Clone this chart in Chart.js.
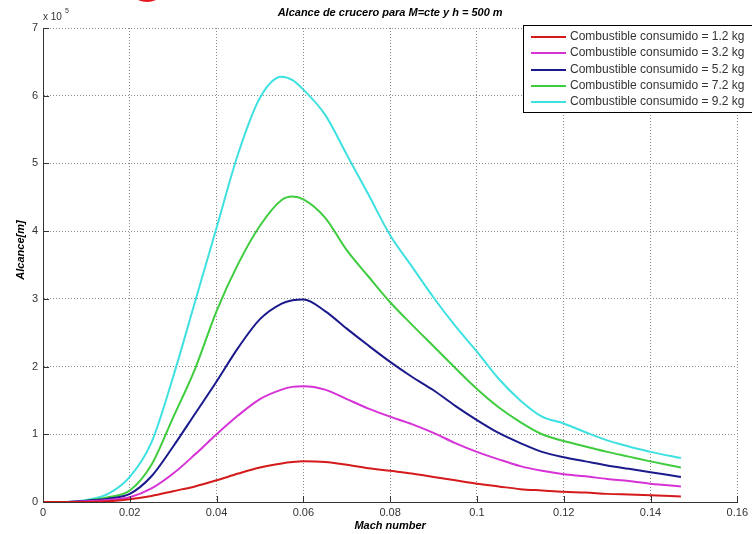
<!DOCTYPE html>
<html>
<head>
<meta charset="utf-8">
<script src="https://cdn.jsdelivr.net/npm/chart.js@4.4.1/dist/chart.umd.min.js"></script>
<style>
  html, body { margin: 0; padding: 0; background: #fff; }
  canvas { display: block; }
</style>
</head>
<body>
<canvas id="alcanceChart" width="752" height="534"></canvas>
<script>
// Numero de Mach (eje x)
const mach = [0, 0.005, 0.01, 0.015, 0.02, 0.025, 0.03, 0.035, 0.04, 0.045, 0.05, 0.055, 0.0575, 0.06, 0.065, 0.07, 0.075, 0.08, 0.085, 0.09, 0.095, 0.1, 0.105, 0.11, 0.115, 0.12, 0.125, 0.13, 0.135, 0.14, 0.147];

// Alcance [m] para cada combustible consumido
const alcance12 = [0, 0, 0, 1000, 4000, 9000, 16000, 23000, 32000, 42000, 51000, 57000, 59000, 60000, 59000, 55000, 50000, 46000, 42000, 37000, 32000, 27000, 23000, 19000, 17000, 15000, 14000, 12000, 11000, 10000, 8000];
const alcance32 = [0, 0, 1000, 3000, 7000, 20000, 42000, 70000, 100000, 128000, 152000, 166000, 170000, 171000, 166000, 152000, 138000, 126000, 115000, 102000, 87000, 74000, 63000, 53000, 46000, 41000, 38000, 34000, 31000, 27000, 23000];
const alcance52 = [0, 0, 2000, 5000, 12000, 38000, 82000, 130000, 178000, 228000, 270000, 293000, 298000, 299000, 282000, 256000, 231000, 207000, 185000, 165000, 142000, 121000, 102000, 87000, 74000, 66000, 60000, 54000, 49000, 44000, 37000];
const alcance72 = [0, 0, 2000, 7000, 17000, 55000, 125000, 196000, 282000, 352000, 408000, 446000, 451000, 447000, 420000, 372000, 333000, 295000, 262000, 230000, 198000, 167000, 140000, 118000, 100000, 90000, 82000, 74000, 67000, 60000, 51000];
const alcance92 = [0, 0, 3000, 12000, 37000, 88000, 185000, 295000, 405000, 515000, 597000, 628000, 623000, 609000, 572000, 513000, 454000, 394000, 348000, 302000, 260000, 222000, 182000, 150000, 126000, 116000, 103000, 91000, 82000, 74000, 65000];

const etiquetas = ['Combustible consumido = 1.2 kg', 'Combustible consumido = 3.2 kg', 'Combustible consumido = 5.2 kg', 'Combustible consumido = 7.2 kg', 'Combustible consumido = 9.2 kg'];
const colores = ['#d41a1a', '#d633d6', '#1a1a8c', '#3fcc3f', '#3fe0e0'];
const series = [alcance12, alcance32, alcance52, alcance72, alcance92];

const fuente = '"Liberation Sans", Arial, Helvetica, sans-serif';

// Marcas de los ejes hacia dentro (estilo MATLAB)
const marcasInternas = {
    id: 'marcasInternas',
    afterDatasetsDraw(chart) {
        const { ctx, chartArea: a, scales: { x, y } } = chart;
        ctx.save();
        ctx.strokeStyle = '#333';
        ctx.lineWidth = 1;
        ctx.beginPath();
        x.ticks.forEach(t => {
            const px = Math.round(x.getPixelForValue(t.value)) + 0.5;
            ctx.moveTo(px, a.bottom);
            ctx.lineTo(px, a.bottom - 6);
        });
        y.ticks.forEach(t => {
            const py = Math.round(y.getPixelForValue(t.value)) + 0.5;
            ctx.moveTo(a.left, py);
            ctx.lineTo(a.left + 6, py);
        });
        ctx.stroke();
        ctx.restore();
    }
};

// Titulos, multiplicador del eje y y leyenda
const textos = {
    id: 'textos',
    afterDraw(chart) {
        const { ctx, chartArea: a } = chart;
        const cx = (a.left + a.right) / 2;
        ctx.save();

        ctx.fillStyle = '#e8141c';
        ctx.beginPath();
        ctx.ellipse(147, -3, 11, 5, 0, 0, Math.PI * 2);
        ctx.fill();

        ctx.fillStyle = '#000';
        ctx.textAlign = 'center';
        ctx.textBaseline = 'middle';
        ctx.font = 'italic bold 11px ' + fuente;
        ctx.fillText('Alcance de crucero para M=cte y h = 500 m', cx, 13);
        ctx.fillText('Mach number', cx, 526);

        ctx.save();
        ctx.translate(21, 250);
        ctx.rotate(-Math.PI / 2);
        ctx.fillText('Alcance[m]', 0, 0);
        ctx.restore();

        ctx.fillStyle = '#333';
        ctx.textAlign = 'left';
        ctx.textBaseline = 'alphabetic';
        ctx.font = '10px ' + fuente;
        ctx.fillText('x 10', 43, 20);
        ctx.font = '7px ' + fuente;
        ctx.fillText('5', 65, 13);

        // leyenda
        const x0 = 523, y0 = 25, w = 240, h = 87;
        ctx.fillStyle = '#fff';
        ctx.fillRect(x0, y0, w, h);
        ctx.strokeStyle = '#000';
        ctx.lineWidth = 1;
        ctx.strokeRect(x0 + 0.5, y0 + 0.5, w, h);
        ctx.font = '12px ' + fuente;
        ctx.textBaseline = 'middle';
        chart.data.datasets.forEach((ds, i) => {
            const yy = Math.round(y0 + 12 + i * 16.3);
            ctx.strokeStyle = ds.borderColor;
            ctx.lineWidth = 2;
            ctx.beginPath();
            ctx.moveTo(x0 + 8, yy);
            ctx.lineTo(x0 + 43, yy);
            ctx.stroke();
            ctx.fillStyle = '#333';
            ctx.fillText(ds.label, x0 + 47, yy);
        });
        ctx.restore();
    }
};

const datasets = series.map((vals, i) => ({
    label: etiquetas[i],
    data: vals.map((v, k) => ({ x: mach[k], y: v })),
    borderColor: colores[i],
    borderWidth: 2,
    pointRadius: 0,
    fill: false,
    cubicInterpolationMode: 'monotone'
}));

const rejilla = { color: '#8a8a8a', lineWidth: 1, drawTicks: false };
const borde = { color: '#333', width: 1, dash: [1, 2] };

const ctx = document.getElementById('alcanceChart').getContext('2d');
new Chart(ctx, {
    type: 'line',
    data: { datasets },
    options: {
        responsive: false,
        animation: false,
        layout: { padding: { top: 28, right: 11, left: 0, bottom: 0 } },
        plugins: { legend: { display: false }, title: { display: false }, tooltip: { enabled: false } },
        scales: {
            x: {
                type: 'linear',
                min: 0,
                max: 0.16,
                grid: rejilla,
                border: borde,
                afterFit: s => { s.height = 32; },
                ticks: {
                    stepSize: 0.02,
                    autoSkip: false,
                    maxRotation: 0,
                    padding: 4,
                    color: '#333',
                    font: { family: fuente, size: 11 },
                    callback: v => String(+v.toFixed(2))
                }
            },
            y: {
                type: 'linear',
                min: 0,
                max: 700000,
                grid: rejilla,
                border: borde,
                afterFit: s => { s.width = 43; },
                ticks: {
                    stepSize: 100000,
                    padding: 5,
                    color: '#333',
                    font: { family: fuente, size: 11 },
                    callback: v => String(Math.round(v / 100000))
                }
            }
        }
    },
    plugins: [marcasInternas, textos]
});
</script>
</body>
</html>
